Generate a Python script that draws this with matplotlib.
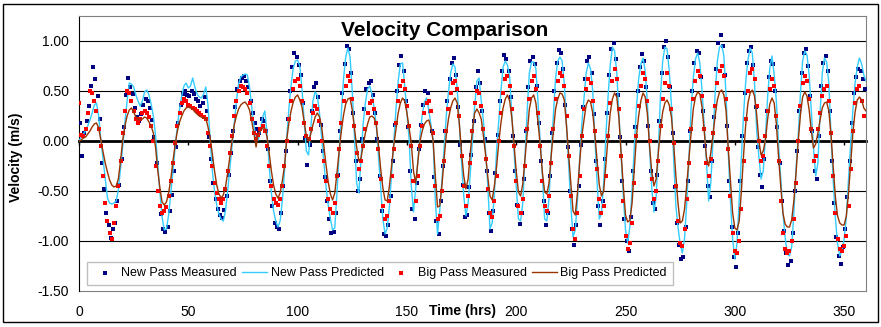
import numpy as np
import matplotlib.pyplot as plt
from matplotlib.patches import Rectangle

plt.rcParams['font.family'] = ['Liberation Sans', 'DejaVu Sans']

# velocities, in cm/s
# predicted: one value per hour, t = 0 .. 360 h
new_pass_pred_cms = [
    0, 4, 7, 10, 15, 21, 28, 36, 38, 25,
    1, -18, -38, -57, -62, -63, -62, -60, -49, -27,
    -6, 19, 40, 58, 57, 54, 46, 40, 35, 40,
    49, 51, 46, 37, 25, 6, -22, -51, -76, -89,
    -88, -74, -52, -30, -6, 15, 32, 45, 55, 58,
    53, 55, 63, 54, 47, 44, 43, 47, 54, 36,
    1, -30, -50, -64, -73, -78, -80, -70, -50, -28,
    -5, 17, 40, 57, 64, 66, 67, 66, 54, 34,
    15, 4, 1, 12, 24, 30, 8, -25, -52, -70,
    -80, -86, -80, -60, -30, 3, 32, 56, 73, 80,
    81, 75, 52, 20, -10, -14, 12, 40, 49, 46,
    28, 4, -21, -46, -64, -78, -89, -87, -52, -12,
    28, 62, 84, 93, 84, 50, 4, -42, -52, -18,
    18, 38, 52, 55, 47, 33, 16, -15, -47, -78,
    -93, -87, -65, -33, -2, 32, 60, 77, 78, 55,
    28, 2, -45, -71, -48, -20, 6, 26, 39, 43,
    31, 16, 1, -60, -93, -70, -40, -8, 25, 49,
    68, 77, 74, 52, 16, -22, -55, -75, -62, -32,
    2, 35, 60, 63, 40, 20, -10, -45, -88, -82,
    -53, -10, 20, 50, 74, 80, 76, 64, 26, -10,
    -45, -78, -80, -62, -15, 30, 68, 79, 79, 72,
    38, -3, -35, -78, -80, -58, -13, 26, 63, 80,
    84, 80, 57, 16, -24, -65, -96, -89, -60, -19,
    17, 43, 68, 78, 72, 50, 2, -42, -78, -72,
    -42, 5, 44, 76, 94, 90, 68, 26, -18, -56,
    -89, -102, -85, -48, -7, 34, 62, 77, 83, 70,
    38, -8, -47, -71, -56, -9, 46, 80, 94, 92,
    70, 36, -17, -64, -86, -103, -112, -97, -62, -18,
    33, 63, 82, 88, 78, 50, 15, -20, -60, -42,
    0, 48, 80, 94, 96, 85, 45, -12, -60, -98,
    -118, -102, -60, -16, 27, 60, 81, 93, 88, 59,
    10, -16, -38, -30, 4, 44, 73, 85, 66, 40,
    -4, -37, -72, -96, -113, -115, -106, -72, -28, 6,
    47, 80, 90, 86, 66, 30, -8, -35, -22, 28,
    68, 83, 79, 58, 6, -40, -77, -103, -115, -110,
    -98, -76, -38, -2, 31, 58, 74, 83, 77, 66,
    60,
]
big_pass_pred_cms = [
    0, 1, 3, 4, 7, 10, 14, 17, 18, 13,
    1, -11, -22, -31, -39, -44, -46, -45, -38, -20,
    1, 15, 25, 31, 33, 29, 24, 22, 21, 22,
    24, 23, 19, 15, 8, -6, -29, -47, -61, -64,
    -61, -52, -38, -20, -3, 10, 19, 25, 30, 33,
    34, 33, 32, 29, 27, 25, 24, 23, 23, 14,
    3, -13, -30, -44, -53, -57, -54, -46, -32, -16,
    0, 16, 25, 32, 36, 38, 39, 36, 31, 20,
    8, -6, 8, 10, 13, 13, 4, -12, -30, -44,
    -53, -57, -52, -40, -25, 1, 18, 30, 39, 44,
    46, 41, 34, 19, 5, 0, 7, 16, 24, 28,
    24, 14, -5, -24, -41, -53, -59, -52, -32, -10,
    10, 26, 37, 42, 43, 31, 13, -6, -20, -17,
    -4, 8, 17, 24, 25, 23, 16, -5, -28, -47,
    -59, -60, -45, -25, -4, 12, 28, 38, 43, 40,
    28, 13, -2, -30, -42, -21, 0, 10, 17, 20,
    21, 13, 0, -35, -66, -65, -45, -18, 6, 22,
    33, 40, 43, 38, 17, -12, -35, -48, -38, -12,
    12, 28, 32, 28, 22, 5, -14, -36, -55, -59,
    -45, -26, -2, 18, 33, 42, 46, 40, 23, -4,
    -30, -51, -55, -43, -18, 8, 32, 43, 46, 38,
    18, -5, -32, -51, -53, -42, -15, 10, 32, 42,
    48, 47, 41, 15, -14, -43, -70, -74, -52, -22,
    5, 21, 36, 41, 39, 28, 6, -20, -44, -55,
    -50, -24, 4, 28, 42, 48, 44, 22, -13, -46,
    -74, -81, -79, -62, -28, 5, 25, 40, 48, 44,
    27, -5, -31, -45, -38, -12, 12, 29, 38, 41,
    36, 24, -2, -34, -62, -82, -80, -68, -44, -18,
    8, 32, 44, 49, 47, 34, 10, -16, -25, -12,
    6, 25, 41, 49, 51, 46, 30, -8, -40, -72,
    -87, -89, -80, -50, -14, 17, 38, 48, 51, 45,
    26, 0, -14, -10, 1, 22, 37, 43, 38, 17,
    -16, -45, -72, -83, -86, -86, -79, -60, -32, 0,
    26, 44, 49, 45, 31, 10, -7, -3, 8, 21,
    33, 38, 39, 30, 6, -26, -56, -75, -82, -84,
    -84, -75, -52, -22, 8, 29, 41, 44, 41, 33,
    30,
]
# measured: one reading per hour (New Pass at half past, Big Pass on the hour)
new_pass_meas_cms = [
    18, -15, 8, 20, 35, 55, 74, 62, 45, 22,
    -22, -48, -72, -84, -97, -88, -82, -60, -44, -18,
    14, 46, 63, 54, 47, 33, 24, 20, 27, 36,
    42, 40, 33, 21, 4, -22, -50, -73, -88, -91,
    -86, -70, -54, -30, -6, 18, 36, 47, 50, 46,
    45, 50, 47, 42, 40, 35, 38, 44, 30, 4,
    -18, -42, -58, -68, -74, -77, -69, -55, -34, -12,
    10, 34, 52, 60, 63, 65, 60, 54, 40, 28,
    18, 12, 8, 22, 20, 10, -8, -40, -65, -82,
    -86, -88, -72, -45, -10, 22, 50, 74, 88, 84,
    76, 66, 38, 3, -24, -4, 30, 54, 58, 44,
    16, -10, -36, -60, -78, -92, -91, -72, -34, 10,
    48, 77, 95, 92, 68, 28, -20, -50, -38, 2,
    32, 52, 58, 60, 46, 28, 2, -35, -70, -93,
    -95, -84, -55, -20, 16, 50, 76, 85, 70, 40,
    14, -30, -68, -78, -42, -8, 16, 36, 50, 48,
    30, 10, -36, -80, -93, -60, -25, 10, 40, 62,
    78, 83, 66, 34, -4, -44, -76, -74, -46, -14,
    20, 54, 70, 58, 30, 2, -30, -72, -90, -70,
    -32, 6, 40, 70, 86, 82, 70, 44, 5, -30,
    -64, -83, -72, -38, 10, 54, 80, 84, 77, 55,
    18, -20, -60, -84, -72, -35, 8, 50, 78, 91,
    88, 72, 36, -6, -50, -88, -104, -84, -45, -4,
    34, 62, 80, 84, 68, 27, -20, -65, -84, -60,
    -18, 28, 66, 92, 98, 82, 46, 4, -40, -78,
    -100, -110, -76, -30, 14, 50, 74, 87, 80, 54,
    15, -30, -62, -68, -34, 20, 68, 94, 100, 84,
    54, 8, -46, -82, -104, -118, -116, -86, -40, 10,
    50, 78, 90, 88, 64, 30, -5, -45, -56, -20,
    24, 72, 98, 106, 95, 66, 15, -40, -86, -116,
    -126, -92, -40, 5, 48, 78, 90, 94, 76, 34,
    -6, -34, -46, -18, 30, 64, 80, 77, 50, 14,
    -22, -60, -90, -112, -124, -120, -92, -50, -10, 30,
    68, 88, 92, 75, 45, 10, -30, -38, 5, 55,
    78, 85, 70, 30, -20, -62, -96, -115, -123, -106,
    -88, -56, -20, 18, 48, 64, 72, 70, 62, 52,
]
big_pass_meas_cms = [
    38, 6, 5, 12, 28, 50, 48, 40, 30, 12,
    -5, -35, -62, -80, -92, -98, -82, -65, -45, -20,
    8, 30, 50, 48, 40, 30, 22, 18, 22, 28,
    30, 28, 24, 15, 0, -25, -50, -65, -72, -70,
    -66, -55, -40, -22, -2, 15, 28, 38, 42, 40,
    36, 35, 33, 32, 30, 28, 26, 24, 22, 8,
    -5, -25, -42, -52, -58, -62, -58, -48, -30, -12,
    5, 25, 40, 50, 55, 54, 52, 48, 38, 22,
    8, 2, 6, 12, 15, 10, -5, -25, -45, -58,
    -62, -64, -58, -45, -25, 0, 22, 40, 52, 60,
    62, 55, 40, 18, 5, 2, 12, 28, 35, 32,
    20, 0, -20, -40, -58, -68, -72, -62, -35, -8,
    18, 40, 55, 65, 60, 42, 15, -12, -28, -20,
    -5, 12, 28, 38, 40, 32, 18, -8, -38, -65,
    -78, -75, -60, -35, -8, 18, 40, 55, 60, 52,
    35, 15, -5, -40, -60, -35, -5, 15, 28, 38,
    40, 30, 8, -45, -78, -75, -50, -20, 10, 32,
    48, 58, 60, 52, 25, -15, -45, -65, -55, -22,
    10, 38, 50, 48, 35, 12, -18, -48, -72, -76,
    -60, -35, 0, 28, 48, 62, 65, 55, 32, -5,
    -40, -65, -72, -58, -25, 12, 42, 60, 65, 52,
    28, -5, -40, -65, -70, -55, -22, 12, 42, 60,
    68, 65, 55, 25, -15, -55, -88, -98, -72, -35,
    5, 32, 52, 62, 58, 40, 10, -28, -58, -72,
    -65, -35, 5, 38, 60, 72, 62, 32, -15, -60,
    -95, -108, -102, -82, -42, 5, 35, 55, 68, 62,
    40, 0, -38, -58, -50, -20, 15, 42, 58, 68,
    55, 32, -2, -45, -80, -102, -105, -88, -58, -22,
    12, 42, 60, 70, 65, 45, 12, -22, -35, -18,
    8, 35, 58, 70, 75, 65, 42, -8, -55, -92,
    -110, -112, -100, -68, -20, 22, 50, 68, 72, 62,
    35, 0, -20, -15, 5, 30, 52, 62, 55, 25,
    -20, -60, -92, -108, -112, -110, -100, -78, -42, 0,
    35, 58, 65, 60, 42, 12, -20, -15, 12, 28,
    45, 52, 55, 40, 8, -35, -72, -98, -108, -110,
    -105, -95, -65, -28, 10, 38, 52, 55, 40, 25,
]

x_ticks = [0, 50, 100, 150, 200, 250, 300, 350]
y_ticks = [-1.5, -1.0, -0.5, 0.0, 0.5, 1.0]

np_pred = np.array(new_pass_pred_cms) / 100
bp_pred = np.array(big_pass_pred_cms) / 100
np_meas = np.array(new_pass_meas_cms) / 100
bp_meas = np.array(big_pass_meas_cms) / 100
t_pred = np.arange(len(np_pred))
t_np_meas = np.arange(len(np_meas)) + 0.5
t_bp_meas = np.arange(len(bp_meas))

W, H = 881, 327
fig = plt.figure(figsize=(W / 100, H / 100), dpi=100)
ax = fig.add_axes([79 / W, 1 - 291 / H, (866 - 79) / W, (291 - 16) / H])

ax.scatter(t_np_meas, np_meas, marker='s', s=5, color='#000080', lw=0,
           label='New Pass Measured', zorder=3)
ax.plot(t_pred, np_pred, color='#33CCFF', lw=1, label='New Pass Predicted', zorder=4)
ax.scatter(t_bp_meas, bp_meas, marker='s', s=5, color='#FF0000', lw=0,
           label='Big Pass Measured', zorder=5)
ax.plot(t_pred, bp_pred, color='#993300', lw=1, label='Big Pass Predicted', zorder=6)

ax.set_xlim(0, 360)
ax.set_ylim(-1.5, 1.25)
ax.set_yticks(y_ticks)
ax.set_yticklabels([f'{v:.2f}' for v in y_ticks], fontsize=10)
for v in y_ticks[1:]:
    if v != 0:
        ax.axhline(v, color='black', lw=0.8, zorder=1)

# x axis crosses at zero: thick line with small ticks, labels at the bottom
ax.spines['bottom'].set_position(('data', 0))
ax.spines['bottom'].set_linewidth(2)
ax.spines['bottom'].set_zorder(2)
ax.set_xticks(x_ticks)
ax.tick_params(axis='x', direction='out', length=3, width=1, labelbottom=False)
ax.tick_params(axis='y', length=0, pad=7)
sec = ax.secondary_xaxis('bottom')
sec.set_xticks(x_ticks)
sec.tick_params(length=0, pad=10, labelsize=10)
sec.spines['bottom'].set_color('#808080')
for side in ['top', 'right']:
    ax.spines[side].set_color('#808080')
ax.spines['left'].set_color('black')

ax.legend(ncol=4, loc='lower left', bbox_to_anchor=(8 / 787, 6 / 275),
          borderaxespad=0, frameon=True, fancybox=False, edgecolor='#c0c0c0',
          framealpha=1, fontsize=9, handlelength=2.0, handletextpad=0.3,
          columnspacing=0.4, borderpad=0.45, markerscale=1.0)

fig.text(445 / W, 1 - 30 / H, 'Velocity Comparison', ha='center', va='center',
         fontsize=15, fontweight='bold')
fig.text(462 / W, 1 - 311 / H, 'Time (hrs)', ha='center', va='center',
         fontsize=10, fontweight='bold')
fig.text(16 / W, 1 - 157 / H, 'Velocity (m/s)', ha='center', va='center',
         rotation=90, fontsize=10, fontweight='bold')
fig.add_artist(Rectangle((3 / W, 5 / H), 875 / W, 318 / H, transform=fig.transFigure,
                         fill=False, ec='black', lw=1))

fig.savefig('out.png', dpi=100)
